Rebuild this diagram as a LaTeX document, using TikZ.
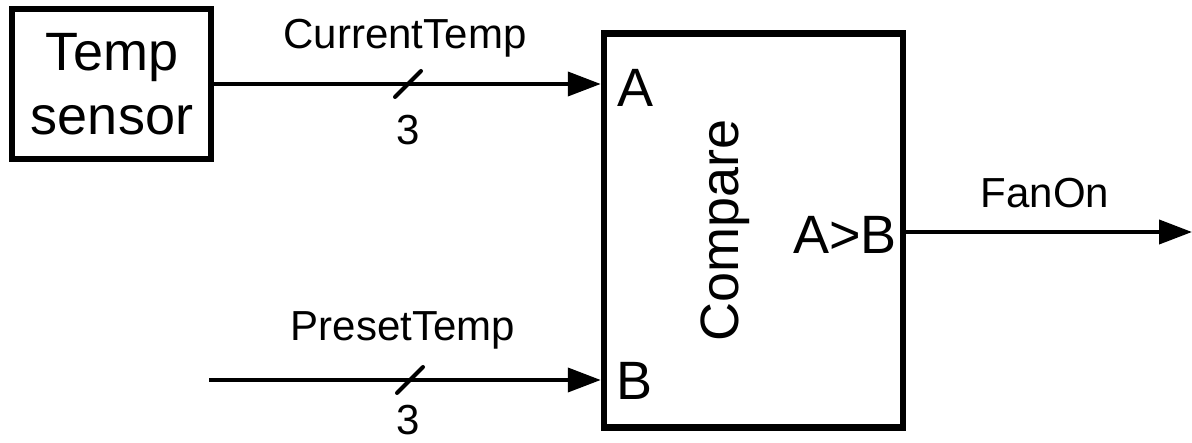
\documentclass[tikz,border=0pt]{standalone}
\usepackage{fontspec}
\setmainfont{Liberation Sans}
\usetikzlibrary{arrows.meta}
\begin{document}
\begin{tikzpicture}[x=1pt,y=-1pt,
  box/.style={draw, line width=6.5pt, inner sep=0pt},
  big/.style={font=\fontsize{54}{64}\selectfont, inner sep=0pt},
  lbl/.style={font=\fontsize{42}{48}\selectfont, inner sep=0pt},
  wire/.style={line width=4pt, -{Triangle[length=33pt,width=24pt]}},
  bus/.style={line width=4pt, line cap=round}]
\useasboundingbox (0,0) rectangle (1192,443);
% blocks
\node[box, minimum width=199pt, minimum height=150pt] (sensor) at (111.5,84) {};
\node[big, align=center] (sensortxt) at (112,84) {Temp\\sensor};
\node[box, minimum width=299pt, minimum height=394pt] (cmp) at (753.5,230.5) {};
\node[big, rotate=90] (cmptxt) at (725,230) {Compare};
\node[big] (pa) at (636,88) {A};
\node[big] (pb) at (635,381) {B};
\node[big] (pgt) at (845,235) {A>B};
% connection points
\coordinate (ina) at (cmp.west |- sensor.east);
\coordinate (pstart) at (209,380);
\coordinate (inb) at (cmp.west |- pstart);
\coordinate (outf) at (cmp.east |- 0,232);
\coordinate (fend) at (1192,232);
% wires
\draw[wire] (sensor.east) -- (ina);
\draw[wire] (pstart) -- (inb);
\draw[wire] (outf) -- (fend);
% bus slashes
\coordinate (s1) at (408,84);
\coordinate (s2) at (410,380);
\draw[bus] ([shift={(-13,13)}]s1) -- ([shift={(13,-13)}]s1);
\draw[bus] ([shift={(-13,13)}]s2) -- ([shift={(13,-13)}]s2);
% labels
\node[lbl] (lct) at (405,38) {CurrentTemp};
\node[lbl] (n1) at (408,130) {3};
\node[lbl] (lpt) at (403,330) {PresetTemp};
\node[lbl] (n2) at (408,420) {3};
\node[lbl] (lfan) at (1045,193) {FanOn};
\end{tikzpicture}
\end{document}
